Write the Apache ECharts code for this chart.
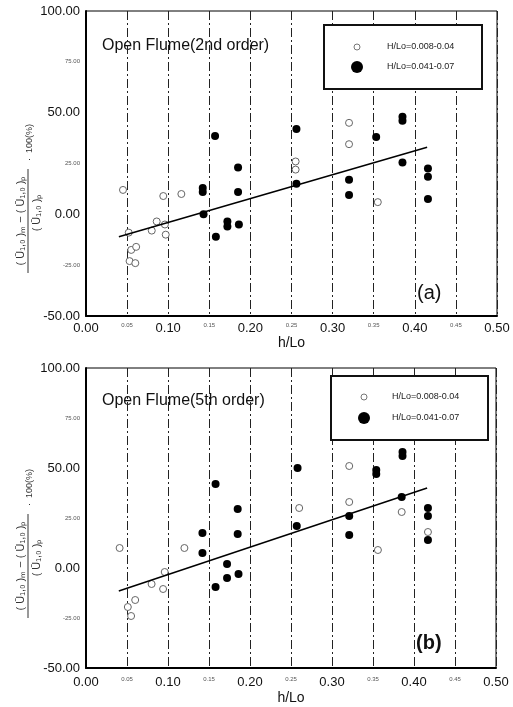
<!DOCTYPE html>
<html><head><meta charset="utf-8">
<script src="https://cdn.jsdelivr.net/npm/echarts@6/dist/echarts.min.js"></script>
<style>html,body{margin:0;padding:0;background:#fff}#c{width:513px;height:707px}</style>
</head><body><div id="c"></div>
<script>
// ---- data ----
const xTicks = [0, 0.05, 0.10, 0.15, 0.20, 0.25, 0.30, 0.35, 0.40, 0.45, 0.50];
const yTicks = [-50, -25, 0, 25, 50, 75, 100];
const seriesNames = ['H/Lo=0.008-0.04', 'H/Lo=0.041-0.07'];
const titleA = 'Open Flume(2nd order)';
const titleB = 'Open Flume(5th order)';

const openA = [[0.045,12],[0.052,-9],[0.055,-17.5],[0.061,-16],[0.053,-23],[0.060,-24],
  [0.080,-8],[0.086,-3.5],[0.096,-5],[0.097,-10],[0.094,9],[0.116,10],
  [0.255,26],[0.255,22],[0.320,45],[0.320,34.5],[0.355,6]];
const filledA = [[0.142,13],[0.142,11],[0.143,0],[0.157,38.5],[0.158,-11],[0.172,-3.5],[0.172,-6],
  [0.185,23],[0.185,11],[0.186,-5],[0.256,42],[0.256,15],[0.320,17],[0.320,9.5],[0.353,38],
  [0.385,48],[0.385,46],[0.385,25.5],[0.416,22.5],[0.416,18.5],[0.416,7.5]];
const trendA = [[0.04,-11],[0.415,33]];

const openB = [[0.041,10],[0.051,-19.5],[0.060,-16],[0.055,-24],[0.080,-8],[0.096,-2],[0.094,-10.5],
  [0.120,10],[0.260,30],[0.321,51],[0.321,33],[0.385,28],[0.417,18],[0.356,9]];
const filledB = [[0.142,17.5],[0.142,7.5],[0.158,42],[0.158,-9.5],[0.172,2],[0.172,-5],
  [0.185,29.5],[0.185,17],[0.186,-3],[0.258,50],[0.257,21],[0.321,26],[0.321,16.5],
  [0.354,49],[0.354,47],[0.386,58],[0.386,56],[0.385,35.5],[0.417,30],[0.417,26],[0.417,14]];
const trendB = [[0.04,-11.5],[0.416,40]];

// ---- chart ----
const chart = echarts.init(document.getElementById('c'), null, {renderer:'canvas'});
const FONT = 'Liberation Sans, Arial, sans-serif';

function xAxisCfg(gi, gap, margin) {
  return {
    gridIndex: gi, type:'value', min: xTicks[0], max: xTicks[xTicks.length-1], interval: 0.05,
    name:'h/Lo', nameLocation:'middle', nameGap: gap,
    nameTextStyle:{fontSize:14, color:'#111', fontFamily:FONT},
    axisLine:{show:true, onZero:false, lineStyle:{color:'#000', width:2}},
    axisTick:{show:false},
    axisLabel:{margin: margin, fontFamily:FONT,
      formatter: v => (Math.round(v*100) % 10 !== 0) ? '{mi|' + v.toFixed(2) + '}' : '{ma|' + v.toFixed(2) + '}',
      rich:{ma:{fontSize:13, color:'#111', fontFamily:FONT}, mi:{fontSize:6, color:'#555', fontFamily:FONT}}},
    splitLine:{show:true, lineStyle:{color:'#222', width:1, type:[9,3,2,3]}}
  };
}
function yAxisCfg(gi) {
  return {
    gridIndex: gi, type:'value', min: yTicks[0], max: yTicks[yTicks.length-1], interval: 25,
    axisLine:{show:true, onZero:false, lineStyle:{color:'#000', width:2}},
    axisTick:{show:false},
    axisLabel:{margin:6, fontFamily:FONT,
      formatter: v => (v % 50 !== 0) ? '{mi|' + v.toFixed(2) + '}' : '{ma|' + v.toFixed(2) + '}',
      rich:{ma:{fontSize:13, color:'#111', fontFamily:FONT}, mi:{fontSize:6, color:'#555', fontFamily:FONT}}},
    splitLine:{show:false}
  };
}
function openSeries(data, gi) {
  return {name: seriesNames[0], type:'scatter', xAxisIndex:gi, yAxisIndex:gi, data,
    symbol:'circle', symbolSize:7,
    itemStyle:{color:'#fff', borderColor:'#666', borderWidth:1, opacity:1}, z:3};
}
function filledSeries(data, gi) {
  return {name: seriesNames[1], type:'scatter', xAxisIndex:gi, yAxisIndex:gi, data,
    symbol:'circle', symbolSize:8, itemStyle:{color:'#000', opacity:1}, z:4};
}
function trendSeries(data, gi) {
  return {type:'line', xAxisIndex:gi, yAxisIndex:gi, data, symbol:'none',
    lineStyle:{color:'#000', width:1.5}, z:5, silent:true};
}
function yTitle(cx, cy) {
  const st = {font:'11px ' + FONT, fill:'#333', align:'center', verticalAlign:'middle'};
  return {type:'group', x:cx, y:cy, rotation:Math.PI/2, children:[
    {type:'text', x:0, y:-7, style:Object.assign({}, st, {text:'( Ū₁,₀ )ₘ − ( Ū₁,₀ )ₚ'})},
    {type:'line', shape:{x1:-52, y1:0, x2:52, y2:0}, style:{stroke:'#333', lineWidth:1}},
    {type:'text', x:8, y:9, style:Object.assign({}, st, {text:'( Ū₁,₀ )ₚ'})},
    {type:'text', x:60, y:2, style:Object.assign({}, st, {align:'left', text:'·  100(%)', font:'9px ' + FONT})}
  ]};
}
function legendBox(x, y, w, h, tx, y1, y2, mx) {
  return [
    {type:'rect', shape:{x, y, width:w, height:h}, style:{fill:'#fff', stroke:'#111', lineWidth:2}, z:10},
    {type:'circle', shape:{cx:mx, cy:y1, r:3}, style:{fill:'#fff', stroke:'#777', lineWidth:1}, z:11},
    {type:'circle', shape:{cx:mx, cy:y2, r:6}, style:{fill:'#000'}, z:11},
    {type:'text', x:tx, y:y1, style:{text:seriesNames[0], font:'9px ' + FONT, fill:'#222', verticalAlign:'middle'}, z:11},
    {type:'text', x:tx, y:y2, style:{text:seriesNames[1], font:'9px ' + FONT, fill:'#222', verticalAlign:'middle'}, z:11}
  ];
}

const option = {
  animation:false,
  backgroundColor:'#fff',
  grid:[
    {left:86, top:11, width:411, height:305, show:true, borderColor:'#000', borderWidth:1, backgroundColor:'transparent'},
    {left:86, top:368, width:410, height:300, show:true, borderColor:'#000', borderWidth:1, backgroundColor:'transparent'}
  ],
  xAxis:[xAxisCfg(0, 20, 6), xAxisCfg(1, 23, 8)],
  yAxis:[yAxisCfg(0), yAxisCfg(1)],
  series:[
    openSeries(openA, 0), filledSeries(filledA, 0), trendSeries(trendA, 0),
    openSeries(openB, 1), filledSeries(filledB, 1), trendSeries(trendB, 1)
  ],
  graphic:[].concat(
    [{type:'text', x:102, y:46, style:{text:titleA, font:'16px ' + FONT, fill:'#111', verticalAlign:'middle'}},
     {type:'text', x:102, y:401, style:{text:titleB, font:'16px ' + FONT, fill:'#111', verticalAlign:'middle'}},
     {type:'text', x:417, y:293, style:{text:'(a)', font:'20px ' + FONT, fill:'#111', verticalAlign:'middle'}},
     {type:'text', x:416, y:643, style:{text:'(b)', font:'bold 20px ' + FONT, fill:'#111', verticalAlign:'middle'}},
     yTitle(28, 221), yTitle(28, 566)],
    legendBox(324, 25, 158, 64, 387, 47, 67, 357),
    legendBox(331, 376, 157, 64, 392, 397, 418, 364)
  )
};
chart.setOption(option);
</script>
</body></html>
